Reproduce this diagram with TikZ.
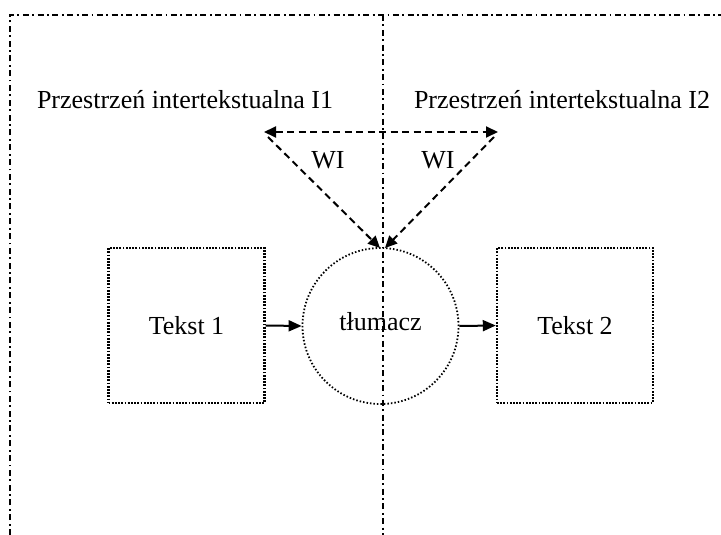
\documentclass[tikz,border=0pt]{standalone}
\usepackage{fontspec}
\setmainfont{Liberation Serif}
\usetikzlibrary{arrows.meta}
\begin{document}
\begin{tikzpicture}[x=1pt,y=-1pt,
  frame/.style={line width=1.8pt, dash pattern=on 6pt off 3.5pt on 1.8pt off 3.5pt},
  dotbox/.style={draw, line width=2.4pt, dash pattern=on 1.8pt off 1.4pt, minimum width=156pt, minimum height=155pt, inner sep=0pt},
  dotcirc/.style={draw, circle, line width=1.8pt, dash pattern=on 1.5pt off 2pt, minimum size=156pt, inner sep=0pt},
  dashln/.style={line width=2pt, dash pattern=on 7pt off 4.5pt},
  wiline/.style={dashln, -{Triangle[length=12pt,width=11pt]}},
  wiboth/.style={dashln, {Triangle[length=12pt,width=11pt]}-{Triangle[length=12pt,width=11pt]}},
  flow/.style={line width=2pt, -{Triangle[length=13pt,width=11pt]}},
  lbl/.style={font=\fontsize{26}{30}\selectfont, inner sep=0pt}]
\useasboundingbox (0,0) rectangle (721,535);
% dash-dot frame dividing the two intertextual spaces
\coordinate (tl) at (10,15);
\coordinate (tr) at (721,15);
\coordinate (bl) at (10,535);
\coordinate (tm) at (383,15);
\coordinate (bm) at (383,535);
\draw[frame] (bl) -- (tl) -- (tr);
\draw[frame] (tm) -- (bm);
% space labels
\node[lbl] (s1) at (185,100) {Przestrzeń intertekstualna I1};
\node[lbl] (s2) at (562,100) {Przestrzeń intertekstualna I2};
% texts and translator
\node[dotbox, lbl] (t1) at (186.5,325.5) {Tekst 1};
\node[dotbox, lbl] (t2) at (575,325.5) {Tekst 2};
\node[dotcirc, lbl] (tr0) at (380.5,326) {};
\node[lbl] (tlab) at (380.5,322) {tłumacz};
% intertextual competence triangle
\coordinate (al) at (264,132);
\coordinate (ar) at (498,132);
\coordinate (alt) at (268,137);
\coordinate (art) at (494,137);
\coordinate (tipl) at (380,248);
\coordinate (tipr) at (385,248);
\draw[wiboth] (al) -- (ar);
\draw[wiline] (alt) -- (tipl);
\draw[wiline] (art) -- (tipr);
\node[lbl] (wi1) at (328,160) {WI};
\node[lbl] (wi2) at (438,160) {WI};
% translation flow
\draw[flow] (t1.east) -- (tr0.west);
\draw[flow] (tr0.east) -- (t2.west);
\end{tikzpicture}
\end{document}
